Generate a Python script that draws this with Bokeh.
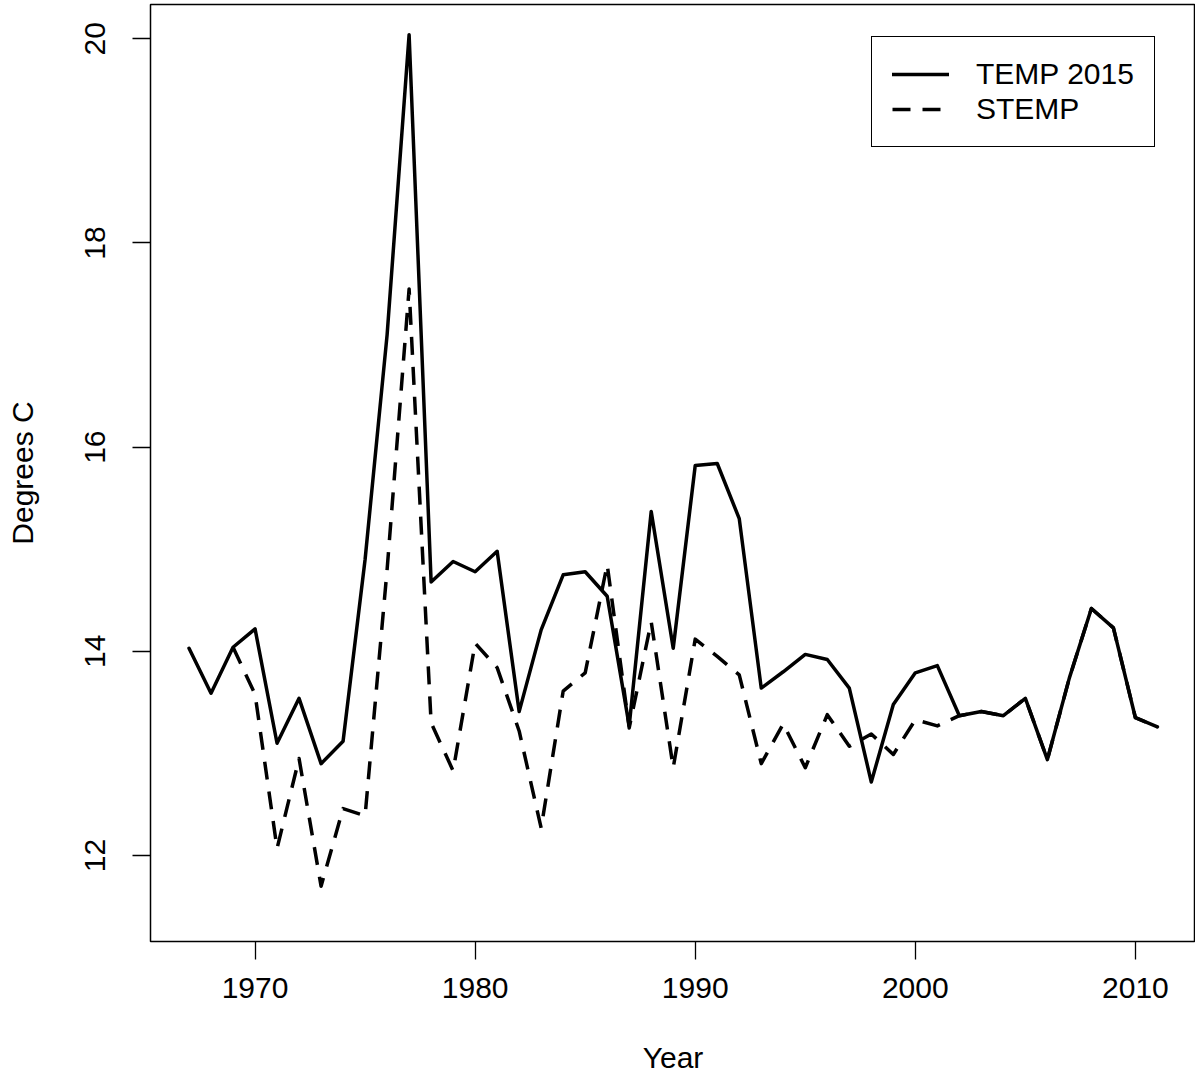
from bokeh.plotting import figure
from bokeh.models import Range1d, FixedTicker, Legend, LegendItem
from bokeh.embed import file_html
from bokeh.resources import INLINE

years = list(range(1967, 2012))
temp_2015 = [14.03, 13.59, 14.04, 14.22, 13.10, 13.54, 12.90, 13.12, 14.90, 17.10,
             20.04, 14.68, 14.88, 14.78, 14.98, 13.41, 14.21, 14.75, 14.78, 14.54,
             13.27, 15.37, 14.03, 15.82, 15.84, 15.30, 13.64, 13.80, 13.97, 13.92,
             13.64, 12.72, 13.48, 13.79, 13.86, 13.37, 13.41, 13.37, 13.54, 12.94,
             13.74, 14.42, 14.23, 13.35, 13.26]
stemp_years = list(range(1969, 2012))
stemp = [14.04, 13.58, 12.07, 12.95, 11.70, 12.46, 12.39, 14.80, 17.55, 13.30,
         12.83, 14.08, 13.84, 13.22, 12.27, 13.61, 13.79, 14.85, 13.25, 14.29,
         12.86, 14.12, 13.95, 13.77, 12.90, 13.29, 12.86, 13.38, 13.07, 13.19,
         12.99, 13.33, 13.27, 13.37, 13.41, 13.37, 13.54, 12.94, 13.74, 14.42,
         14.23, 13.35, 13.26]
x_ticks = [1970, 1980, 1990, 2000, 2010]
y_ticks = [12, 14, 16, 18, 20]
series_names = ["TEMP 2015", "STEMP"]

FONT = "Liberation Sans"
FS = "30px"

p = figure(frame_width=1045, frame_height=937,
           x_range=Range1d(1965.25, 2012.73), y_range=Range1d(11.158, 20.336),
           output_backend="svg", toolbar_location=None,
           min_border_left=150, min_border_right=0, min_border_top=4, min_border_bottom=144,
           background_fill_color="white", border_fill_color="white")
p.grid.visible = False
p.outline_line_color = "black"
p.outline_line_width = 1.5
p.outline_line_alpha = 1

r1 = p.line(years, temp_2015, line_color="black", line_width=3.5,
            line_join="round", line_cap="round")
r2 = p.line(stemp_years, stemp, line_color="black", line_width=3.5,
            line_dash="18 12", line_join="round", line_cap="butt")

for ax in (p.xaxis[0], p.yaxis[0]):
    ax.axis_line_color = None
    ax.major_tick_out = 18
    ax.major_tick_in = 0
    ax.major_tick_line_width = 1.3
    ax.major_tick_line_color = "black"
    ax.minor_tick_line_color = None
    ax.major_label_text_font = FONT
    ax.major_label_text_font_size = FS
    ax.major_label_text_color = "black"
    ax.axis_label_text_font = FONT
    ax.axis_label_text_font_size = FS
    ax.axis_label_text_font_style = "normal"
    ax.axis_label_text_color = "black"

p.xaxis[0].ticker = FixedTicker(ticks=x_ticks)
p.yaxis[0].ticker = FixedTicker(ticks=y_ticks)
p.xaxis[0].axis_label = "Year"
p.yaxis[0].axis_label = "Degrees C"
p.xaxis[0].major_label_standoff = 18
p.xaxis[0].axis_label_standoff = 40
p.yaxis[0].major_label_orientation = "vertical"
p.yaxis[0].major_label_standoff = 27
p.yaxis[0].axis_label_standoff = 44

legend = Legend(items=[LegendItem(label=series_names[0], renderers=[r1]),
                       LegendItem(label=series_names[1], renderers=[r2])],
                location=(721, 794))
legend.border_line_color = "black"
legend.border_line_alpha = 1
legend.border_line_width = 1.5
legend.background_fill_alpha = 1
legend.label_text_font = FONT
legend.label_text_font_size = FS
legend.label_text_color = "black"
legend.glyph_width = 57
legend.label_standoff = 27
legend.padding = 20
legend.spacing = 1
legend.margin = 0
p.add_layout(legend)

open("out.html", "w").write(file_html(p, INLINE))
